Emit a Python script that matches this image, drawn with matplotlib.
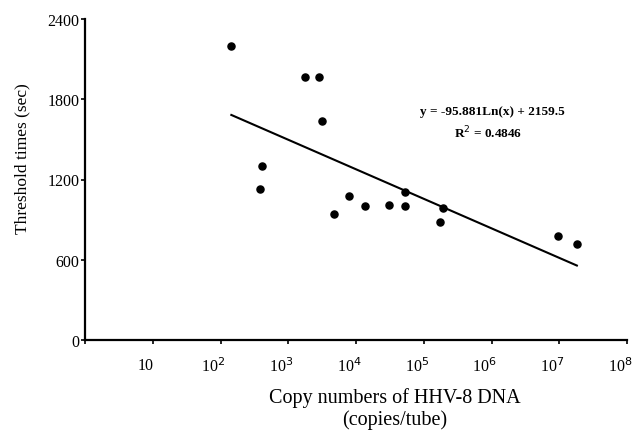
import numpy as np
import matplotlib
matplotlib.use('Agg')
import matplotlib.pyplot as plt
import matplotlib.transforms as mtransforms

plt.rcParams['font.family'] = ['Liberation Serif', 'DejaVu Serif']

# copy numbers (log10 of copies/tube) and threshold times (sec)
log_copies = [2.16, 2.59, 2.61, 3.24, 3.46, 3.50, 3.68, 3.89, 4.14, 4.48, 4.72, 4.73, 5.24, 5.28, 6.98, 7.26]
threshold = [2200, 1130, 1300, 1970, 1970, 1640, 940, 1080, 1000, 1010, 1000, 1110, 880, 990, 780, 720]

fit_slope = -95.881
fit_icpt = 2159.5
fit_text = 'y = -95.881Ln(x) + 2159.5'
r2_text = 'R$^2$ = 0.4846'

x_ticks = [10.0 ** k for k in range(0, 9)]
x_ticklabels = [''] + ['10'] + ['10$^{%d}$' % k for k in range(2, 9)]
y_ticks = [0, 600, 1200, 1800, 2400]

copies = 10.0 ** np.array(log_copies)

fig = plt.figure(figsize=(6.4, 4.35), dpi=100)
ax = fig.add_axes([85/640, 1 - 341/435, (627-85)/640, (341-20)/435])

ax.scatter(copies, threshold, s=26, color='black', zorder=3)

xl = np.linspace(copies.min(), copies.max(), 50)
ax.plot(xl, fit_slope * np.log(xl) + fit_icpt, color='black', lw=1.5)

ax.set_xscale('log')
ax.set_xlim(1, 1e8)
ax.set_ylim(0, 2400)
ax.set_xticks(x_ticks)
ax.set_xticklabels(x_ticklabels, fontsize=11.5)
ax.minorticks_off()
ax.set_yticks(y_ticks)
ax.set_yticklabels([str(v) for v in y_ticks], fontsize=11.5)
ax.tick_params(direction='out', length=3, width=1.2)
ax.tick_params(axis='x', pad=9)
ax.tick_params(axis='y', pad=1)

# labels in the original sit a little left of their ticks
shift = mtransforms.ScaledTranslation(-7/100, 0, fig.dpi_scale_trans)
for lab in ax.get_xticklabels():
    lab.set_transform(lab.get_transform() + shift)

for s in ['top', 'right']:
    ax.spines[s].set_visible(False)
for s in ['left', 'bottom']:
    ax.spines[s].set_linewidth(1.6)

ax.set_ylabel('Threshold times (sec)', fontsize=12.5)
ax.yaxis.set_label_coords(-0.10, 0.567)
ax.set_xlabel('Copy numbers of HHV-8 DNA\n(copies/tube)', fontsize=14.5, linespacing=1.15)
ax.xaxis.set_label_coords(0.572, -0.148)
ax.xaxis.label.set_va('top')

ax.text(10 ** 6.01, 1712, fit_text, ha='center', va='center', fontsize=9.5, fontweight='bold')
ax.text(10 ** 5.95, 1555, r2_text, ha='center', va='center', fontsize=9.5, fontweight='bold')

fig.savefig('out.png', dpi=100)
